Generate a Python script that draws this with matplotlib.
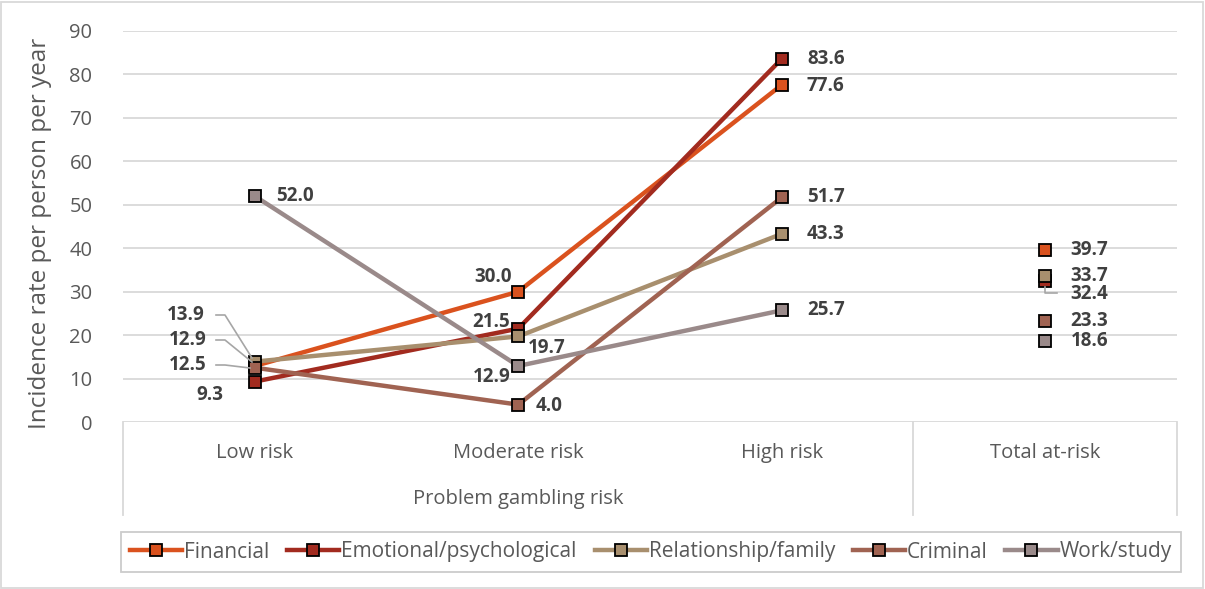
import matplotlib
matplotlib.use("Agg")
import matplotlib.pyplot as plt
from matplotlib.lines import Line2D
from matplotlib.patches import Rectangle

plt.rcParams['font.family'] = ['Open Sans', 'DejaVu Sans']

categories = ["Low risk", "Moderate risk", "High risk", "Total at-risk"]
group_label = "Problem gambling risk"
series_names = ["Financial", "Emotional/psychological", "Relationship/family", "Criminal", "Work/study"]
financial = [12.9, 30.0, 77.6, 39.7]
emotional = [9.3, 21.5, 83.6, 32.4]
relationship = [13.9, 19.7, 43.3, 33.7]
criminal = [12.5, 4.0, 51.7, 23.3]
work = [52.0, 12.9, 25.7, 18.6]
colors = ["#DA521E", "#A22B1F", "#A88F6E", "#A06352", "#9A8A8A"]
y_ticks = [0, 10, 20, 30, 40, 50, 60, 70, 80, 90]

series = [financial, emotional, relationship, criminal, work]

# label centre offsets in pixels (dx right, dy up) per series per category
offsets = [
    [(-67, 26), (-25, 15), (44, -1), (44, 0)],
    [(-45, -13), (-27, 7), (44, 0), (44, -13)],
    [(-69, 47), (28, -12), (44, 0), (44, 0)],
    [(-67, 3), (31, -1), (44, 0), (44, 0)],
    [(40, 0), (-27, -11), (44, 0), (44, 0)],
]

W, H = 1205, 589
fig = plt.figure(figsize=(W / 100, H / 100), dpi=100)
L, R, B, T = 123, 1177, 422, 31
ax = fig.add_axes([L / W, 1 - B / H, (R - L) / W, (B - T) / H])
ax.set_xlim(-0.5, 3.5)
ax.set_ylim(0, 90)
ax.set_yticks(y_ticks)
ax.set_yticklabels([str(t) for t in y_ticks])
ax.tick_params(axis='y', length=0, labelsize=14.5, labelcolor="#595959", pad=22)
ax.set_xticks([])
for s in ax.spines.values():
    s.set_visible(False)
for t in y_ticks:
    ax.axhline(t, color="#D9D9D9", lw=1.3, zorder=0)

xs = list(range(len(categories)))
for vals, c in zip(series, colors):
    ax.plot(xs[:3], vals[:3], color=c, lw=3.2, zorder=2, solid_capstyle='round')
for vals, c in zip(series, colors):
    ax.plot(xs, vals, ls='none', marker='s', ms=8, mfc=c, mec='black', mew=1.3, zorder=3)

for si, vals in enumerate(series):
    for ci, v in enumerate(vals):
        dx, dy = offsets[si][ci]
        ax.annotate(f"{v:.1f}", (ci, v), xytext=(dx, dy), textcoords='offset pixels',
                    ha='center', va='center', fontsize=13.5, fontweight='bold', color="#404040", zorder=5)

# leader lines for low-risk cluster and total 32.4
def leader(pts):
    xs_, ys_ = zip(*pts)
    fig.add_artist(Line2D([x / W for x in xs_], [1 - y / H for y in ys_], color="#A6A6A6", lw=1.2))

leader([(216, 315), (225, 315), (252, 358)])
leader([(216, 340), (225, 340), (252, 362)])
leader([(216, 365), (225, 365), (250, 368)])
leader([(1045, 287), (1045, 293), (1057, 293)])

# category axis box
def fline(x0, y0, x1, y1):
    fig.add_artist(Line2D([x0 / W, x1 / W], [1 - y0 / H, 1 - y1 / H], color="#D9D9D9", lw=1.3))

fline(L, B, L, 515)
fline(913, B, 913, 515)
fline(R, B, R, 515)

for ci, cat in enumerate(categories):
    ax.annotate(cat, (ci, 0), xytext=(0, -31), textcoords='offset pixels', ha='center', va='center',
                fontsize=14.5, color="#595959", annotation_clip=False)
fig.text((L + 913) / 2 / W, 1 - 499 / H, group_label, ha='center', va='center', fontsize=14.5, color="#595959")

fig.text(40 / W, 1 - 233 / H, "Incidence rate per person per year", rotation=90, ha='center', va='center',
         fontsize=17.5, color="#595959")

# legend
handles = [Line2D([0], [0], color=c, lw=3.2, marker='s', ms=8, mfc=c, mec='black', mew=1.3) for c in colors]
leg = fig.legend(handles, series_names, loc='center', bbox_to_anchor=(651 / W, 1 - 552 / H), ncol=5,
                 frameon=True, fontsize=15, handlelength=2.5, handletextpad=0.1, columnspacing=0.85,
                 borderpad=0.45, borderaxespad=0, fancybox=False)
leg.get_frame().set_edgecolor("#BFBFBF")
leg.get_frame().set_linewidth(1.3)
for t in leg.get_texts():
    t.set_color("#595959")

fig.add_artist(Rectangle((1 / W, 1 / H), (W - 3) / W, (H - 3) / H, fill=False, ec="#D9D9D9", lw=1.3,
                         transform=fig.transFigure))

fig.savefig("out.png", dpi=100, facecolor="white")
